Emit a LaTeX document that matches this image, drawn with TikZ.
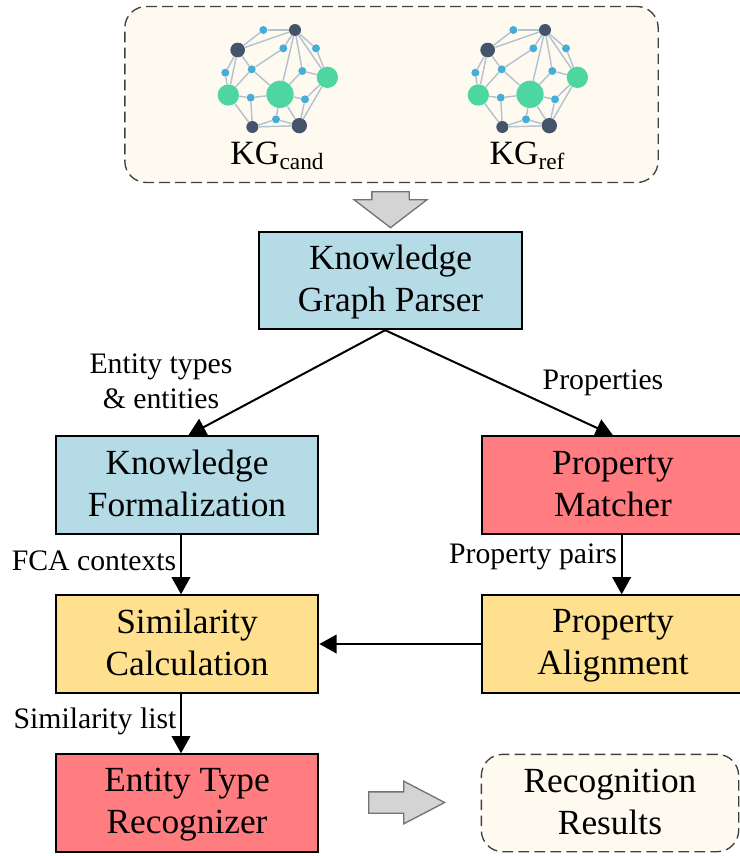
\documentclass[tikz,border=0pt]{standalone}
\usepackage{fontspec}
\setmainfont{Liberation Serif}
\usetikzlibrary{arrows.meta, positioning, shapes.arrows, backgrounds}

\definecolor{kgblue}{HTML}{B4DBE6}
\definecolor{kgred}{HTML}{FF7C80}
\definecolor{kgyellow}{HTML}{FFE08F}
\definecolor{kgcream}{HTML}{FFFAF0}
\definecolor{kggreen}{HTML}{4DD6A0}
\definecolor{kgdark}{HTML}{44546A}
\definecolor{kgdot}{HTML}{45ADD8}
\definecolor{kgedge}{HTML}{B4C3D2}

\newcommand{\twolines}[2]{\rule[-4.3pt]{0pt}{25pt}#1\\\rule[-4.3pt]{0pt}{25pt}#2}

\tikzset{
    stagebox/.style={draw=black, line width=1.5pt, minimum width=197pt, minimum height=73pt, inner sep=0pt, align=center, font=\fontsize{26.5}{31.5}\selectfont},
    dashbox/.style={draw=black!75, fill=kgcream, line width=1pt, dash pattern=on 8pt off 4pt, rounded corners=16pt},
    flowlabel/.style={align=center, inner sep=0pt, font=\fontsize{22.3}{26.5}\selectfont},
    blockarrow/.style={draw=black!55, fill=black!17, line width=1pt, shape=single arrow, inner xsep=0pt, anchor=tail},
    dotnode/.style={circle, fill=kgdot, draw=none, inner sep=0pt, minimum size=6pt},
    hubnode/.style={circle, fill=kgdark, draw=none, inner sep=0pt},
    leafnode/.style={circle, fill=kggreen, draw=none, inner sep=0pt},
    kggraph/.pic={
        % Nodes, a quarter point per unit
        \begin{scope}[x=0.25pt, y=-0.25pt]
        \node[hubnode, minimum size=9pt] (a) at (285,30) {};
        \node[hubnode, minimum size=11pt] (b) at (113,90) {};
        \node[dotnode] (c) at (190,30) {};
        \node[dotnode] (d) at (250,85) {};
        \node[dotnode] (e) at (348,85) {};
        \node[dotnode] (f) at (155,148) {};
        \node[dotnode] (g) at (76,158) {};
        \node[dotnode] (h) at (307,153) {};
        \node[leafnode, minimum size=16pt] (i) at (382,172) {};
        \node[leafnode, minimum size=16pt] (j) at (85,225) {};
        \node[leafnode, minimum size=20.5pt] (k) at (240,223) {};
        \node[dotnode] (l) at (152,233) {};
        \node[dotnode] (m) at (315,238) {};
        \node[dotnode] (n) at (228,298) {};
        \node[hubnode, minimum size=9pt] (o) at (157,321) {};
        \node[hubnode, minimum size=11.5pt] (p) at (298,317) {};
        \end{scope}
        % Edges
        \foreach \from/\to in {c/a, c/b, b/a, d/a, d/f, a/e, a/h, a/i, a/k, e/i, h/i, h/k, b/f, b/g, b/j,
            g/j, f/j, f/k, j/l, l/k, l/o, j/o, k/m, m/i, m/p, i/p, k/n, k/p, n/o, n/p, o/p}
            \draw[kgedge, line width=1.1pt] (\from) -- (\to);
    },
}

\begin{document}
\begin{tikzpicture}[x=0.75pt, y=-0.75pt, >={Triangle[length=13pt, width=14pt]}]
    \useasboundingbox (0,0) rectangle (739,856);

    % Input graphs
    \node[dashbox, minimum width=400pt, minimum height=132pt] (input) at (391.5,94.5) {};
    \pic (cand) at (200,20) {kggraph};
    \pic (ref) at (450,20) {kggraph};
    \node[font=\fontsize{25.5}{30}\selectfont, inner sep=0pt] (kgcand) at (277,156) {KG\raisebox{-4pt}{\fontsize{17.5}{20}\selectfont cand}};
    \node[font=\fontsize{25.5}{30}\selectfont, inner sep=0pt] (kgref) at (527,156) {KG\raisebox{-4pt}{\fontsize{17.5}{20}\selectfont ref}};

    % Stages
    \node[stagebox, fill=kgblue] (parser) at (390.5,280.5) {\twolines{Knowledge}{Graph Parser}};
    \node[stagebox, fill=kgblue] (formal) at (187,485) {\twolines{Knowledge}{Formalization}};
    \node[stagebox, fill=kgred] (matcher) at (613,485) {\twolines{Property}{Matcher}};
    \node[stagebox, fill=kgyellow] (simcalc) at (187,644) {\twolines{Similarity}{Calculation}};
    \node[stagebox, fill=kgyellow] (align) at (613,644) {\twolines{Property}{Alignment}};
    \node[stagebox, fill=kgred] (recog) at (187,803) {\twolines{Entity Type}{Recognizer}};
    \node[dashbox, align=center, minimum width=193pt, minimum height=73pt, inner sep=0pt, font=\fontsize{26.5}{31.5}\selectfont] (result) at (610,803) {\twolines{Recognition}{Results}};

    % Block arrows
    \node[blockarrow, rotate=270, inner ysep=13.5pt, minimum height=27pt, single arrow head extend=13.3pt, single arrow tip angle=105] (inarrow) at (390.5,191) {};
    \node[blockarrow, inner ysep=7.5pt, minimum height=57pt, single arrow head extend=8pt, single arrow tip angle=55] (outarrow) at (368,802.5) {};

    % Arrows
    \draw[->, line width=1.5pt] ([xshift=-4pt]parser.south) -- ([xshift=1pt]formal.north);
    \draw[->, line width=1.5pt] ([xshift=-4pt]parser.south) -- (matcher.north);
    \draw[->, line width=1.5pt] ([xshift=-4.5pt]formal.south) -- ([xshift=-4.5pt]simcalc.north);
    \draw[->, line width=1.5pt] ([xshift=6.5pt]matcher.south) -- ([xshift=6.5pt]align.north);
    \draw[->, line width=1.5pt] (align.west) -- (simcalc.east);
    \draw[->, line width=1.5pt] ([xshift=-4.5pt]simcalc.south) -- ([xshift=-4.5pt]recog.north);

    % Labels
    \node[flowlabel] (typelabel) at (161,381) {Entity types\\\& entities};
    \node[flowlabel] (proplabel) at (603,383) {Properties};
    \node[flowlabel] (fcalabel) at (94,561) {FCA contexts};
    \node[flowlabel] (pairlabel) at (533,557) {Property pairs};
    \node[flowlabel] (listlabel) at (95,721) {Similarity list};
\end{tikzpicture}
\end{document}
